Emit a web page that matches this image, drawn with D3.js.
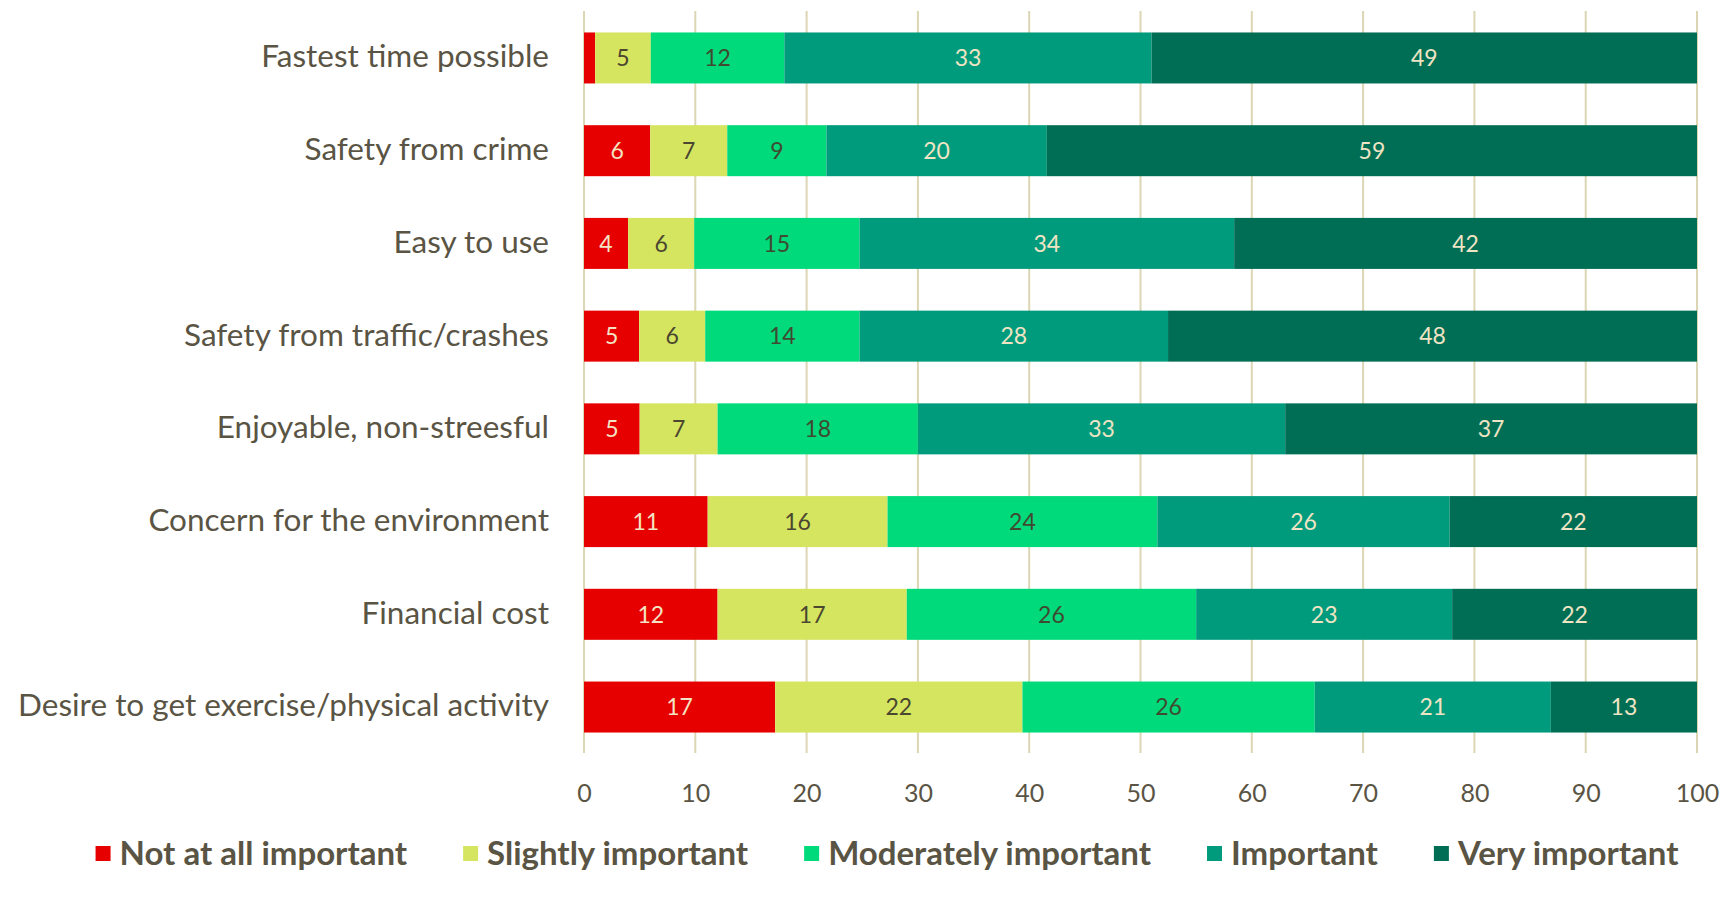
<!DOCTYPE html>
<html lang="en">
<head>
    <meta charset="UTF-8">
    <title>Travel mode importance</title>
    <script src="https://cdn.jsdelivr.net/npm/d3@7"></script>
    <style>
        body { margin: 0; background: #fff; }
    </style>
</head>
<body>

<script>
    var width = 1722;
    var height = 900;

    var categories = [
        "Fastest time possible",
        "Safety from crime",
        "Easy to use",
        "Safety from traffic/crashes",
        "Enjoyable, non-streesful",
        "Concern for the environment",
        "Financial cost",
        "Desire to get exercise/physical activity"
    ];
    var seriesNames = ["Not at all important", "Slightly important", "Moderately important", "Important", "Very important"];
    var notAtAll   = [1, 6, 4, 5, 5, 11, 12, 17];
    var slightly   = [5, 7, 6, 6, 7, 16, 17, 22];
    var moderately = [12, 9, 15, 14, 18, 24, 26, 26];
    var important  = [33, 20, 34, 28, 33, 26, 23, 21];
    var veryImp    = [49, 59, 42, 48, 37, 22, 22, 13];
    var xTicks = [0, 10, 20, 30, 40, 50, 60, 70, 80, 90, 100];

    var colors = ["#e60000", "#d5e55f", "#00da7b", "#009b7c", "#006e55"];
    var labelColors = ["#f3e4c4", "#4a4630", "#3f4a30", "#efe4c4", "#efe4c4"];

    var allSeries = [notAtAll, slightly, moderately, important, veryImp];
    var rows = categories.map(function (c, i) {
        var r = { cat: c };
        seriesNames.forEach(function (s, j) { r[s] = allSeries[j][i]; });
        return r;
    });

    // each bar is drawn as share of its own total (some rows round to 99/101)
    var stack = d3.stack().keys(seriesNames).offset(d3.stackOffsetExpand);
    var layers = stack(rows);

    var svg = d3.select('body')
            .append('svg')
            .attr('width', width)
            .attr('height', height);

    var x = d3.scaleLinear().domain([0, 100]).range([584, 1697]);
    var y = d3.scaleBand().domain(categories).range([11.6, 753.4])
            .paddingInner(0.45).paddingOuter(0.225);

    var font = "Lato, 'Open Sans', sans-serif";
    var textColor = "#5a5444";

    // grid lines
    svg.append('g')
            .selectAll('line')
            .data(xTicks)
            .enter()
            .append('line')
            .attr('x1', function (d) { return x(d); })
            .attr('x2', function (d) { return x(d); })
            .attr('y1', 11)
            .attr('y2', 753)
            .attr('stroke', '#dcd6b4')
            .attr('stroke-width', 2);

    // bars
    var groups = svg.append('g')
            .selectAll('g')
            .data(layers)
            .enter()
            .append('g')
            .attr('fill', function (d, i) { return colors[i]; });

    groups.selectAll('rect')
            .data(function (d) { return d; })
            .enter()
            .append('rect')
            .attr('x', function (d) { return x(d[0] * 100); })
            .attr('width', function (d) { return x(d[1] * 100) - x(d[0] * 100); })
            .attr('y', function (d) { return y(d.data.cat); })
            .attr('height', y.bandwidth());

    // value labels
    layers.forEach(function (layer, i) {
        svg.append('g')
                .selectAll('text')
                .data(layer.filter(function (d) { return d.data[layer.key] >= 3; }))
                .enter()
                .append('text')
                .attr('x', function (d) { return x((d[0] + d[1]) / 2 * 100); })
                .attr('y', function (d) { return y(d.data.cat) + y.bandwidth() / 2; })
                .attr('dy', '0.36em')
                .attr('text-anchor', 'middle')
                .attr('font-family', font)
                .attr('font-size', 23)
                .attr('fill', labelColors[i])
                .text(function (d) { return d.data[layer.key]; });
    });

    // category labels
    var yAxis = svg.append('g')
            .attr('transform', 'translate(549,0)')
            .call(d3.axisLeft(y).tickSize(0).tickPadding(0));
    yAxis.select('.domain').remove();
    yAxis.selectAll('text')
            .attr('font-family', font)
            .attr('font-size', 31.5)
            .attr('fill', textColor)
            .attr('dy', '0.3em');

    // x tick labels
    var xAxis = svg.append('g')
            .attr('transform', 'translate(0,793)')
            .call(d3.axisBottom(x).tickValues(xTicks).tickSize(0).tickPadding(0));
    xAxis.select('.domain').remove();
    xAxis.selectAll('text')
            .attr('font-family', font)
            .attr('font-size', 25)
            .attr('fill', textColor)
            .attr('dy', '0.35em');

    // legend
    var legend = svg.append('g');
    var items = legend.selectAll('g')
            .data(seriesNames)
            .enter()
            .append('g');
    items.append('rect')
            .attr('width', 15)
            .attr('height', 15)
            .attr('y', -7)
            .attr('fill', function (d, i) { return colors[i]; });
    items.append('text')
            .attr('x', 24)
            .attr('dy', '0.35em')
            .attr('font-family', font)
            .attr('font-weight', 'bold')
            .attr('font-size', 33)
            .attr('fill', textColor)
            .text(function (d) { return d; });

    var cursor = 0;
    items.each(function () {
        var w = 24 + d3.select(this).select('text').node().getComputedTextLength();
        d3.select(this).attr('transform', 'translate(' + cursor + ',0)');
        cursor += w + 56;
    });
    var total = cursor - 56;
    legend.attr('transform', 'translate(' + (887 - total / 2) + ',853)');
</script>
</body>
</html>
